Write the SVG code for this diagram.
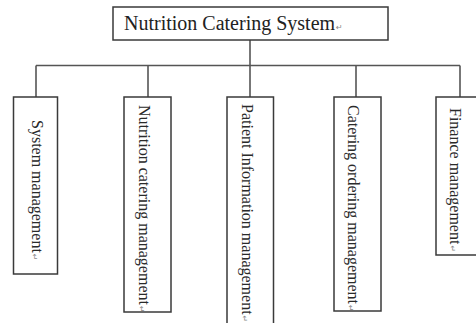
<svg xmlns="http://www.w3.org/2000/svg" width="476" height="323" viewBox="0 0 476 323">
  <style>
    .box { fill: #ffffff; stroke: #3a3a3a; stroke-width: 1.5; }
    .wire { fill: none; stroke: #555555; stroke-width: 1.6; }
    .lbl { font-family: "Liberation Serif", "Times New Roman", serif; font-size: 16px; fill: #2a2a2a; }
    .title { font-family: "Liberation Serif", "Times New Roman", serif; font-size: 20px; fill: #222222; }
    .pm { font-family: "DejaVu Sans", sans-serif; font-size: 8px; fill: #888888; }
  </style>
  <rect width="476" height="323" fill="#ffffff"/>

  <!-- tree connectors -->
  <g id="connectors">
    <path class="wire" d="M250 40 V65.5"/>
    <path class="wire" d="M36 65.5 H460"/>
    <path class="wire" d="M36 65.5 V97"/>
    <path class="wire" d="M148 65.5 V97"/>
    <path class="wire" d="M250 65.5 V97"/>
    <path class="wire" d="M356 65.5 V97"/>
    <path class="wire" d="M460 65.5 V97"/>
  </g>

  <g id="root">
    <rect class="box" x="113" y="7" width="275" height="33"/>
    <text class="title" x="124" y="29.5">Nutrition Catering System<tspan class="pm" dx="1">↵</tspan></text>
  </g>

  <g id="system-management">
    <rect class="box" x="13.5" y="97" width="44" height="177"/>
    <text class="lbl" transform="translate(32 120) rotate(90)">System management<tspan class="pm" dx="1">↵</tspan></text>
  </g>

  <g id="nutrition-catering-management">
    <rect class="box" x="124" y="97" width="47" height="215"/>
    <text class="lbl" transform="translate(139 105) rotate(90)">Nutrition catering management<tspan class="pm" dx="1">↵</tspan></text>
  </g>

  <g id="patient-information-management">
    <rect class="box" x="227" y="97" width="46.5" height="240"/>
    <text class="lbl" transform="translate(242 104) rotate(90)">Patient Information management<tspan class="pm" dx="1">↵</tspan></text>
  </g>

  <g id="catering-ordering-management">
    <rect class="box" x="334" y="97" width="47" height="214"/>
    <text class="lbl" transform="translate(347.5 105) rotate(90)">Catering ordering management<tspan class="pm" dx="1">↵</tspan></text>
  </g>

  <g id="finance-management">
    <rect class="box" x="436" y="97" width="60" height="158"/>
    <text class="lbl" transform="translate(450 108) rotate(90)">Finance management<tspan class="pm" dx="1">↵</tspan></text>
  </g>
</svg>
